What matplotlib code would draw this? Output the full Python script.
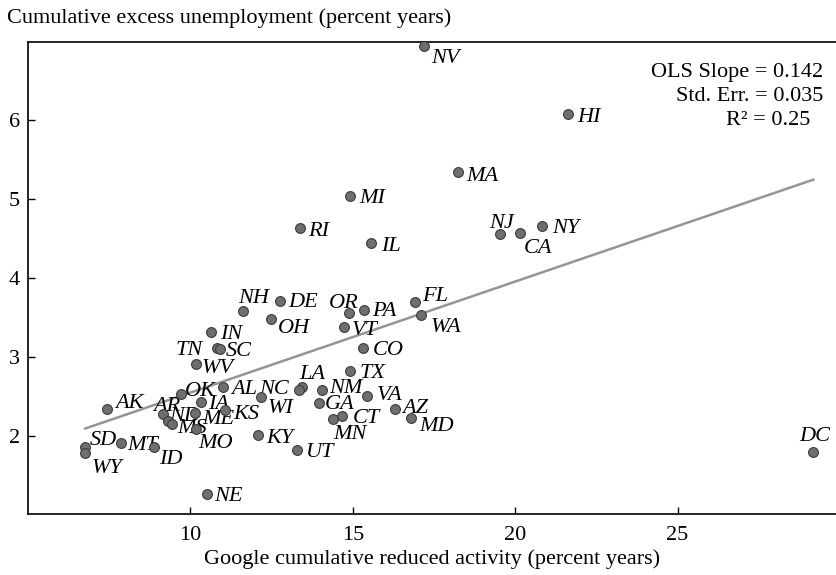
import numpy as np
import matplotlib.pyplot as plt

plt.rcParams['font.family'] = ['Liberation Serif', 'DejaVu Serif']
plt.rcParams['font.size'] = 16

# state, Google cumulative reduced activity, cumulative excess unemployment
states = ['NV', 'HI', 'MA', 'MI', 'RI', 'IL', 'NJ', 'CA', 'NY', 'FL',
          'WA', 'OR', 'PA', 'VT', 'CO', 'NH', 'DE', 'OH', 'TX', 'IN',
          'TN', 'SC', 'WV', 'NE', 'LA', 'NC', 'NM', 'GA', 'VA', 'MN',
          'CT', 'AZ', 'MD', 'KY', 'UT', 'WI', 'OK', 'AL', 'IA', 'AR',
          'ND', 'MS', 'ME', 'MO', 'KS', 'AK', 'SD', 'WY', 'MT', 'ID', 'DC']
google = [17.20, 21.62, 18.25, 14.90, 13.37, 15.55, 19.54, 20.15, 20.83, 16.92,
          17.09, 14.89, 15.35, 14.74, 15.33, 11.61, 12.77, 12.48, 14.92, 10.62,
          10.83, 10.91, 10.17, 10.50, 13.45, 13.35, 14.06, 13.95, 15.43, 14.38,
          14.67, 16.30, 16.80, 12.08, 13.29, 12.18, 9.72, 11.00, 10.33, 9.17,
          9.31, 9.43, 10.14, 10.18, 11.08, 7.44, 6.76, 6.76, 7.86, 8.89, 29.18]
unemp = [6.93, 6.07, 5.33, 5.03, 4.63, 4.44, 4.55, 4.56, 4.65, 3.69,
         3.53, 3.55, 3.59, 3.38, 3.11, 3.58, 3.70, 3.47, 2.82, 3.31,
         3.11, 3.10, 2.91, 1.26, 2.62, 2.58, 2.58, 2.41, 2.50, 2.21,
         2.25, 2.34, 2.22, 2.01, 1.82, 2.49, 2.52, 2.62, 2.42, 2.27,
         2.19, 2.14, 2.28, 2.08, 2.32, 2.34, 1.85, 1.78, 1.91, 1.86, 1.79]

stats_lines = ['OLS Slope = 0.142', 'Std. Err. = 0.035', 'R\u00b2 = 0.25']

# label centre offsets from the marker, in pixels (x right, y down)
label_pos = {
    'NV': (21, 10), 'HI': (21, 1), 'MA': (24, 1), 'MI': (23, 0), 'RI': (19, 1),
    'IL': (20, 1), 'NJ': (1, -13), 'CA': (17.5, 12), 'NY': (23.5, 0),
    'FL': (20, -8), 'WA': (25, 10), 'OR': (-5.5, -12), 'PA': (20, -1),
    'VT': (21, 1), 'CO': (25, 0), 'NH': (11, -15), 'DE': (23, -2),
    'OH': (23, 6), 'TX': (22, 0), 'IN': (20.5, 0), 'TN': (-28.5, 0),
    'SC': (19, 0), 'WV': (22, 2), 'NE': (22, 0), 'LA': (9.4, -15),
    'NC': (-25, -3.5), 'NM': (23.5, -4), 'GA': (20.6, -1), 'VA': (23, -3),
    'MN': (17, 13), 'CT': (24, 0), 'AZ': (20, -3), 'MD': (25, 6),
    'KY': (21.5, 1), 'UT': (23, 0), 'WI': (19, 9), 'OK': (19, -6),
    'AL': (21, 0), 'IA': (17, -1), 'AR': (3, -11), 'ND': (17, -7),
    'MS': (20, 1.5), 'ME': (23, 3), 'MO': (19, 11.5), 'KS': (20.5, 1),
    'AK': (22, -8), 'SD': (18, -10), 'WY': (22, 13), 'MT': (22, 0),
    'ID': (17, 10), 'DC': (1, -18),
}

x = np.array(google)
y = np.array(unemp)

fig = plt.figure(figsize=(8.37, 5.75), dpi=100)
ax = fig.add_axes([28 / 837, 1 - 514 / 575, 809 / 837, 472.3 / 575])

# OLS fit line
slope, intercept = np.polyfit(x, y, 1)
xs = np.array([x.min(), x.max()])
ax.plot(xs, intercept + slope * xs, color='#959595', lw=1.8, zorder=1)

ax.scatter(x, y, s=50, facecolor='#6e6e6e', edgecolor='#3c3c3c',
           linewidth=0.8, zorder=3)

px = 0.72  # points per pixel at 100 dpi
for st, xi, yi in zip(states, x, y):
    dx, dy = label_pos[st]
    ax.annotate(st, (xi, yi), xytext=(dx * px, -(dy + 7.3) * px),
                textcoords='offset points', ha='center', va='baseline',
                fontstyle='italic', fontsize=16, zorder=2)

ax.text(0.9827, 0.9344, stats_lines[0], transform=ax.transAxes,
        ha='right', va='center')
ax.text(0.9827, 0.8836, stats_lines[1], transform=ax.transAxes,
        ha='right', va='center')
ax.text(0.9675, 0.8327, stats_lines[2], transform=ax.transAxes,
        ha='right', va='center')

ax.set_xlim(5.0, 29.91)
ax.set_ylim(1.007, 6.985)
ax.set_xticks([10, 15, 20, 25])
ax.set_yticks([2, 3, 4, 5, 6])
ax.tick_params(direction='in', length=5, width=1, top=False, right=False,
               labelsize=16)
ax.tick_params(axis='y', pad=6)
ax.tick_params(axis='x', pad=9)
ax.spines['right'].set_visible(False)
for side in ['left', 'top', 'bottom']:
    ax.spines[side].set_linewidth(1.2)

ax.set_xlabel('Google cumulative reduced activity (percent years)', labelpad=3)
fig.text(7 / 837, 1 - 18.5 / 575, 'Cumulative excess unemployment (percent years)',
         ha='left', va='center', fontsize=16)

fig.savefig('out.png', dpi=100)
